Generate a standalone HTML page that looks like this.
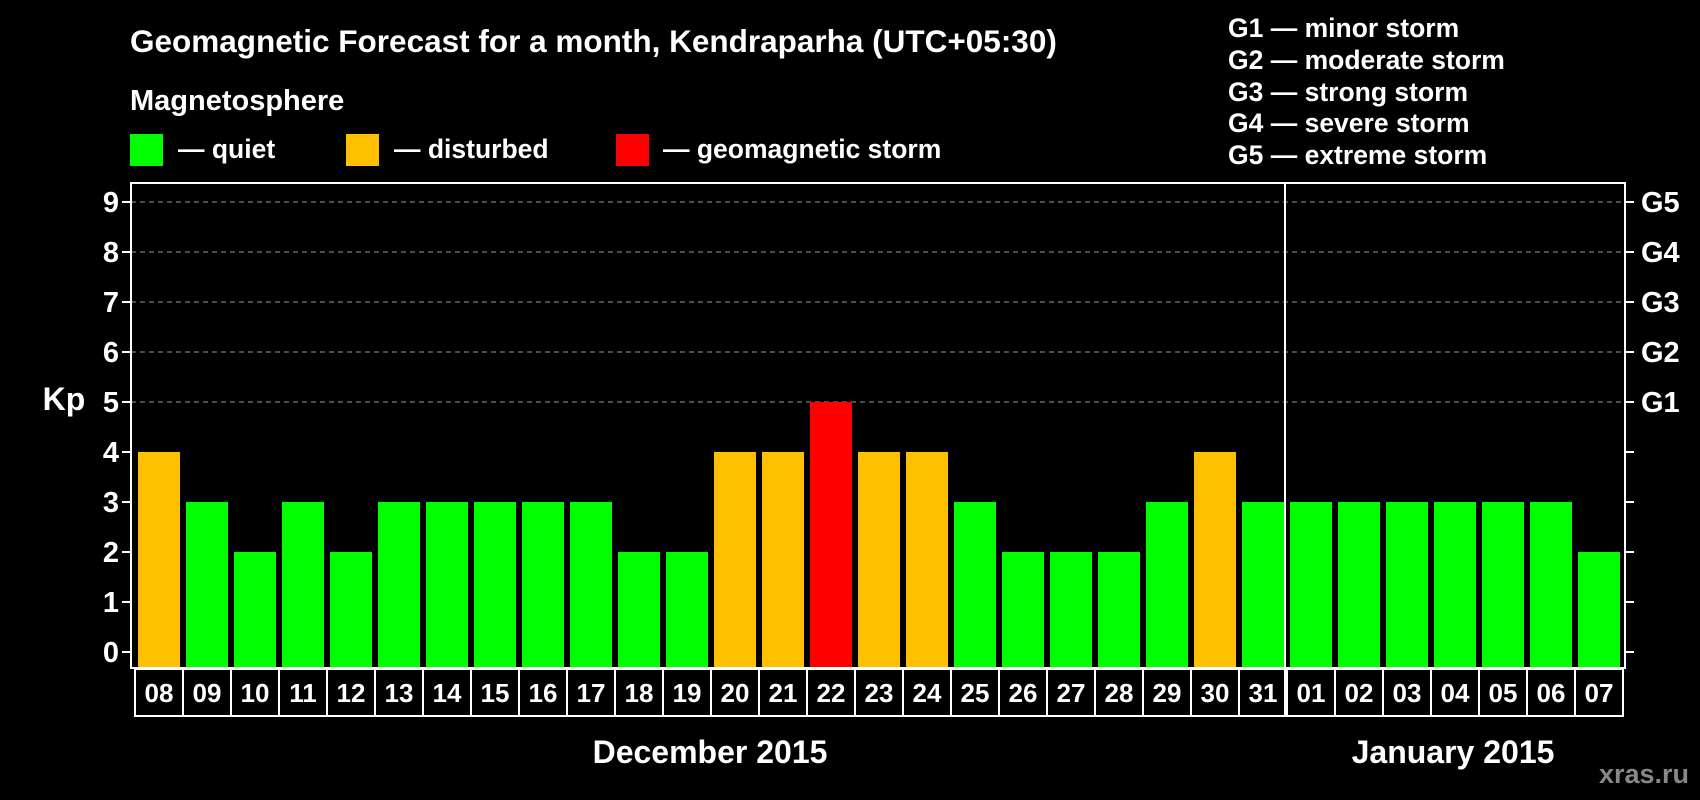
<!DOCTYPE html>
<html><head><meta charset="utf-8"><style>
body{margin:0;background:#000;width:1700px;height:800px;overflow:hidden}
svg{display:block;font-family:"Liberation Sans",Arial,sans-serif;font-weight:bold}
</style></head><body>
<svg id="c" width="1700" height="800">
<text x="130" y="52" fill="#fff" font-size="31.5">Geomagnetic Forecast for a month, Kendraparha (UTC+05:30)</text>
<text x="130" y="110" fill="#fff" font-size="29">Magnetosphere</text>
<rect x="130" y="134" width="33" height="32" fill="#00ff00"/>
<text x="178" y="158" fill="#fff" font-size="26.5">— quiet</text>
<rect x="346" y="134" width="33" height="32" fill="#ffc000"/>
<text x="394" y="158" fill="#fff" font-size="26.5">— disturbed</text>
<rect x="616" y="134" width="33" height="32" fill="#ff0000"/>
<text x="663" y="158" fill="#fff" font-size="26.5">— geomagnetic storm</text>
<g fill="#fff" font-size="26.5">
<text x="1228" y="37">G1 — minor storm</text>
<text x="1228" y="69">G2 — moderate storm</text>
<text x="1228" y="101">G3 — strong storm</text>
<text x="1228" y="132">G4 — severe storm</text>
<text x="1228" y="164">G5 — extreme storm</text>
</g>
<text x="64" y="410" fill="#fff" font-size="32" text-anchor="middle">Kp</text>
<text x="710" y="763" fill="#fff" font-size="32" text-anchor="middle">December 2015</text>
<text x="1453" y="763" fill="#fff" font-size="32" text-anchor="middle">January 2015</text>
<text x="1689" y="783" fill="#888" font-size="27" text-anchor="end">xras.ru</text>
<g id="plot"></g>
</svg>
<script>
const days=["08","09","10","11","12","13","14","15","16","17","18","19","20","21","22","23","24","25","26","27","28","29","30","31","01","02","03","04","05","06","07"];
const kp=[4,3,2,3,2,3,3,3,3,3,2,2,4,4,5,4,4,3,2,2,2,3,4,3,3,3,3,3,3,3,2];
const yTicks=[0,1,2,3,4,5,6,7,8,9];
const gLabels=["G1","G2","G3","G4","G5"];
const gLevels=[5,6,7,8,9];
const monthBreakIndex=24;
const NS="http://www.w3.org/2000/svg";
const g=document.getElementById('plot');
const L=131,R=1625,T=183,B=668,Y0=652,UNIT=50,X0=135,STEP=48;
const y=v=>Y0-v*UNIT;
const x=i=>X0+i*STEP;
function mk(t,a){const e=document.createElementNS(NS,t);for(const k in a)e.setAttribute(k,a[k]);g.appendChild(e);return e;}
yTicks.forEach(v=>{
 if(v>=5){const l=mk('line',{x1:L,x2:R,y1:y(v),y2:y(v),stroke:'#999','stroke-dasharray':'5,4','stroke-width':1});
 
 }
 const t=mk('line',{x1:L-9,x2:L,y1:y(v),y2:y(v),stroke:'#fff','stroke-width':2});
 
 
 const r=mk('line',{x1:R,x2:R+9,y1:y(v),y2:y(v),stroke:'#fff','stroke-width':2});
 
 
 const tx=mk('text',{x:L-12,y:y(v)+10,fill:'#fff','font-size':29,'text-anchor':'end'});
 tx.textContent=v;
 
 
});
gLabels.forEach((s,i)=>{
 const tx=mk('text',{x:R+16,y:y(gLevels[i])+10,fill:'#fff','font-size':29});
 tx.textContent=s;
 
 
});
days.forEach((d,i)=>{
 const v=kp[i];
 const col=v>=5?'#ff0000':(v>=4?'#ffc000':'#00ff00');
 const b=mk('rect',{x:x(i)+3,y:y(v),width:42,height:B-y(v)-1,fill:col});
 
 
 const c=mk('rect',{x:x(i),y:B+1,width:STEP,height:47,fill:'none',stroke:'#fff','stroke-width':2});
 
 
 const t=mk('text',{x:x(i)+STEP/2,y:B+34,fill:'#fff','font-size':26,'text-anchor':'middle'});
 t.textContent=d;
 
 
});
const f=mk('rect',{x:L,y:T,width:R-L,height:B-T,fill:'none',stroke:'#fff','stroke-width':2});


const sx=x(monthBreakIndex)-2;
const sep=mk('line',{x1:sx,x2:sx,y1:T,y2:B+48,stroke:'#fff','stroke-width':2});


</script>
</body></html>
